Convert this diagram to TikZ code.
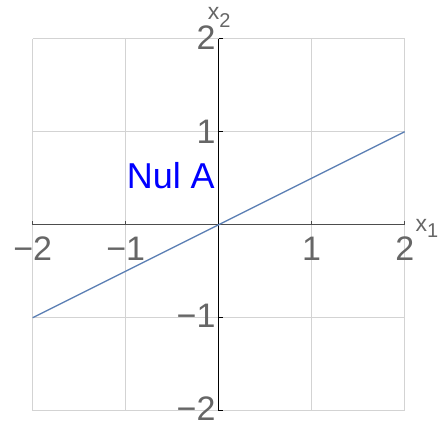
\documentclass[tikz,border=0pt]{standalone}
\usepackage{fontspec}
\setmainfont{Liberation Sans}
\definecolor{tickgray}{HTML}{666666}
\definecolor{gridgray}{HTML}{D3D3D3}
\definecolor{plotblue}{HTML}{5E81B5}
\definecolor{axisgray}{HTML}{4D4D4D}
\definecolor{nulblue}{HTML}{0000FF}
\begin{document}
\begin{tikzpicture}[x=93pt,y=93pt,
  ticklab/.style={font=\fontsize{34}{34}\selectfont, text=tickgray, inner sep=0pt},
  axlab/.style={font=\fontsize{23}{23}\selectfont, text=tickgray, inner sep=0pt},
  gridline/.style={draw=gridgray, line width=0.9pt},
  xaxisline/.style={draw=axisgray, line width=1.6pt},
  yaxisline/.style={draw=black, line width=1.2pt},
  plotline/.style={draw=plotblue, line width=1.4pt}]
\useasboundingbox (-218.7pt,-197.3pt) rectangle (219.3pt,224.7pt);
% grid
\draw[gridline, xstep=93pt, ystep=93pt] (-2,-2) grid (2,2);
% axes
\coordinate (xl) at (-2,0);
\coordinate (xr) at (2,0);
\coordinate (yb) at (0,-2);
\coordinate (yt) at (0,2);
\draw[xaxisline] (xl) -- (xr);
\foreach \t in {-2,-1,1,2}{
  \draw[draw=axisgray, line width=1.2pt] (\t,0) -- ++(0,4pt);
}
\draw[yaxisline] (yb) -- (yt);
\foreach \t in {-2,-1,1,2}{
  \draw[draw=black, line width=1.2pt] (0,\t) -- ++(4.5pt,0);
}
% plotted line
\coordinate (pa) at (-2,-1);
\coordinate (pb) at (2,1);
\draw[plotline] (pa) -- (pb);
% x tick labels
\node[ticklab, anchor=base] (lxm2) at (-2,-35.3pt) {−2};
\node[ticklab, anchor=base] (lxm1) at (-1,-35.3pt) {−1};
\node[ticklab, anchor=base] (lx1) at (1,-35.3pt) {1};
\node[ticklab, anchor=base] (lx2) at (2,-35.3pt) {2};
% y tick labels
\node[ticklab, anchor=base east] (ly2) at (-3pt,{2*93pt-11pt}) {2};
\node[ticklab, anchor=base east] (ly1) at (-3pt,{93pt-11.5pt}) {1};
\node[ticklab, anchor=base east] (lym1) at (-3pt,{-93pt-10pt}) {−1};
\node[ticklab, anchor=base east] (lym2) at (-3pt,{-2*93pt-9.5pt}) {−2};
% axis labels
\node[axlab, anchor=base west] (xone) at (196.8pt,-7.3pt) {x\raisebox{-6pt}{\fontsize{20}{20}\selectfont 1}};
\node[axlab, anchor=base west] (xtwo) at (-11pt,204.7pt) {x\raisebox{-8pt}{\fontsize{20}{20}\selectfont 2}};
% annotation
\node[font=\fontsize{36}{36}\selectfont, text=nulblue, anchor=base east, inner sep=0pt] (nul) at (-3.7pt,35.7pt) {Nul A};
\end{tikzpicture}
\end{document}
